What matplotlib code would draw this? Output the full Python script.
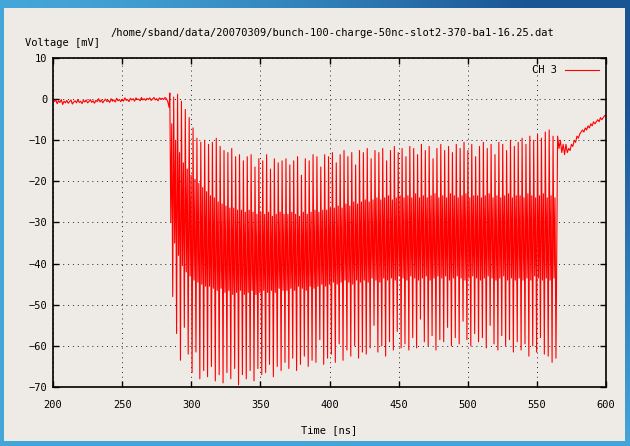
"""
Осциллограмма канала CH 3: пачка из 100 сгустков (шаг 2.8 нс).
"""

import matplotlib

matplotlib.use("Agg")

import matplotlib.pyplot as plt
import numpy as np
from matplotlib.patches import Rectangle

TITLE = "/home/sband/data/20070309/bunch-100-charge-50nc-slot2-370-ba1-16.25.dat"

# Базовая линия до прихода пачки, шаг 1 нс (200 ... 284 нс)
baseline_start = 200.0
baseline_mv = [
    0.0, -0.6, -0.2, -1.1, -0.4, -0.8, -0.1, -1.3, -0.5, -0.9,
    -0.3, -1.0, -0.6, -0.2, -1.2, -0.7, -0.4, -0.9, -0.1, -0.8,
    -0.5, -1.1, -0.3, -0.7, -0.2, -0.9, -0.6, -0.1, -0.8, -0.4,
    -1.0, -0.3, -0.6, 0.1, -0.7, -0.2, -0.9, -0.4, 0.0, -0.6,
    -0.3, -0.8, 0.1, -0.5, -0.2, -0.7, 0.2, -0.4, -0.1, -0.6,
    0.0, -0.5, 0.3, -0.3, -0.1, -0.6, 0.2, -0.2, 0.1, -0.5,
    0.3, -0.1, 0.0, -0.4, 0.4, -0.2, 0.1, -0.3, 0.2, -0.1,
    0.3, -0.3, 0.0, 0.4, -0.2, 0.1, -0.4, 0.3, 0.0, 0.2,
    -0.1, 0.4, 0.1, -0.6, -2.0,
]

# Пачка: 100 сгустков, первый в 284.5 нс, шаг 2.8 нс
bunch_first = 284.5
bunch_step = 2.8
# Верхние пики каждого периода
peak_top = [
    1.5, 0.5, 1.2, -0.5, -2.5, -4.5, -7.0, -9.5, -10.5, -10.0,
    -11.0, -10.5, -9.5, -11.5, -12.5, -13.0, -12.0, -14.0, -13.5, -15.0,
    -14.0, -13.5, -16.5, -14.5, -15.0, -13.5, -17.0, -14.5, -15.5, -15.0,
    -14.5, -16.0, -15.0, -14.0, -18.5, -14.5, -15.0, -13.5, -14.0, -16.5,
    -13.5, -14.0, -13.0, -15.5, -13.5, -12.5, -14.0, -13.0, -16.0, -12.5,
    -13.0, -12.0, -14.5, -12.5, -13.0, -12.0, -15.0, -12.5, -11.5, -13.0,
    -12.0, -14.0, -11.5, -12.0, -13.5, -11.0, -12.5, -11.5, -14.5, -12.0,
    -11.0, -12.5, -11.5, -13.0, -11.0, -12.0, -10.5, -12.5, -11.0, -14.0,
    -11.5, -10.5, -12.0, -11.0, -13.5, -10.5, -11.0, -12.5, -10.0, -11.5,
    -10.5, -9.5, -11.0, -9.0, -10.0, -8.5, -9.5, -8.0, -7.5, -9.0,
]
# Нижняя граница плотной полосы
band_low = [
    -30.0, -35.0, -38.0, -40.5, -42.0, -43.0, -44.0, -44.5, -45.0, -45.5,
    -45.5, -46.0, -46.5, -46.0, -47.0, -46.5, -47.5, -47.0, -46.5, -47.5,
    -47.0, -46.5, -47.5, -47.0, -46.5, -47.0, -46.5, -47.0, -46.0, -46.5,
    -46.5, -46.0, -46.5, -45.5, -46.0, -46.5, -45.5, -46.0, -45.5, -45.0,
    -45.5, -45.0, -44.5, -45.0, -44.5, -44.0, -44.5, -45.0, -44.0, -44.5,
    -44.0, -44.5, -43.5, -44.0, -44.5, -43.5, -44.0, -43.5, -44.0, -43.0,
    -43.5, -44.0, -43.0, -43.5, -44.0, -43.5, -43.0, -44.0, -43.5, -43.0,
    -43.5, -43.0, -44.0, -43.5, -43.0, -43.5, -44.0, -43.5, -43.0, -43.5,
    -44.0, -43.5, -43.0, -43.5, -44.0, -43.5, -43.0, -44.0, -43.5, -44.0,
    -43.5, -44.0, -43.5, -44.0, -43.0, -43.5, -44.0, -43.5, -44.0, -43.5,
]
# Верхняя граница плотной полосы
band_high = [
    -6.0, -10.0, -13.0, -15.5, -17.0, -18.5, -19.5, -20.5, -21.5, -22.5,
    -23.5, -24.0, -25.0, -25.5, -26.0, -26.5, -26.5, -27.0, -27.0, -27.5,
    -27.0, -27.5, -28.0, -27.5, -28.0, -27.5, -28.5, -28.0, -27.5, -28.0,
    -28.0, -27.5, -28.0, -28.5, -27.5, -28.0, -27.5, -27.0, -27.5, -27.0,
    -27.0, -26.5, -26.5, -26.0, -26.5, -25.5, -26.0, -25.0, -25.5, -25.0,
    -24.5, -25.0, -24.5, -24.0, -24.5, -24.0, -23.5, -24.5, -24.0, -23.5,
    -24.0, -23.5, -24.0, -23.0, -24.0, -23.5, -24.0, -23.5, -23.0, -24.0,
    -23.5, -24.0, -23.0, -23.5, -24.0, -23.5, -23.0, -24.0, -23.5, -23.5,
    -24.0, -23.5, -23.0, -24.0, -23.5, -24.0, -23.5, -23.0, -24.0, -23.5,
    -23.5, -24.0, -23.0, -23.5, -24.0, -23.5, -23.0, -24.0, -23.5, -24.0,
]
# Нижние пики каждого периода
peak_bottom = [
    -48.0, -57.0, -63.5, -55.5, -62.0, -66.5, -61.5, -68.0, -66.0, -67.5,
    -65.0, -68.5, -67.0, -69.0, -66.5, -68.0, -65.5, -69.5, -67.0, -68.0,
    -66.0, -68.5, -65.5, -67.0, -66.5, -64.5, -67.5, -65.0, -66.0, -64.0,
    -65.5, -63.0, -66.0, -64.5, -62.5, -65.0, -63.5, -64.0, -58.5, -64.5,
    -63.0, -62.0, -64.0, -59.5, -63.5, -61.0, -62.5, -60.0, -63.0, -61.5,
    -62.0, -60.5, -55.0, -61.5, -60.0, -62.5, -59.0, -61.0, -56.5, -60.5,
    -59.5, -61.0, -58.0, -60.5, -53.5, -59.0, -60.0, -57.5, -61.0, -58.5,
    -59.0, -55.5, -60.0, -58.0, -59.5, -54.0, -58.5, -60.0, -57.0, -59.0,
    -58.0, -60.5, -55.0, -59.5, -61.0, -57.5, -60.0, -58.5, -61.5, -59.0,
    -61.0, -59.5, -62.5, -60.0, -61.5, -58.0, -62.0, -62.5, -64.0, -63.0,
]

# Хвост после пачки, шаг 1 нс (565 ... 600 нс)
tail_start = 565.0
tail_mv = [
    -9.0, -12.0, -10.0, -13.0, -11.0, -13.5, -11.0, -13.0, -12.0, -12.5,
    -11.0, -11.5, -10.0, -10.5, -9.0, -9.5, -8.5, -8.0, -7.5, -8.0,
    -7.0, -7.5, -6.5, -7.0, -6.0, -6.5, -5.5, -6.0, -5.5, -5.0,
    -5.5, -4.5, -5.0, -4.5, -4.0, -4.0,
]


def build_trace():
    """Склеивает базовую линию, пачку (4 точки на период) и хвост."""
    t_base = baseline_start + np.arange(len(baseline_mv))
    t_bunch = bunch_first + bunch_step * np.arange(len(peak_top))
    phase = np.array([0.0, 0.25, 0.5, 0.75]) * bunch_step
    t_b = (t_bunch[:, None] + phase[None, :]).ravel()
    v_b = np.column_stack([peak_top, band_low, band_high, peak_bottom]).ravel()
    t_tail = tail_start + np.arange(len(tail_mv))
    t = np.concatenate([t_base, t_b, t_tail])
    v = np.concatenate([baseline_mv, v_b, tail_mv])
    return t, v


W, H = 630, 446
fig = plt.figure(figsize=(W / 100, H / 100), dpi=100)

# Фон рабочего стола: голубой градиент, темнее в правом верхнем углу
bg = fig.add_axes([0, 0, 1, 1], zorder=-10)
gx, gy = np.meshgrid(np.linspace(0, 1, 64), np.linspace(0, 1, 48))
w = np.clip(gx ** 1.5 * (1 - gy) * 1.3, 0, 1)[..., None]
light = np.array([0.27, 0.65, 0.85])
dark = np.array([0.10, 0.33, 0.58])
bg.imshow(light * (1 - w) + dark * w, aspect="auto", extent=[0, 1, 0, 1],
          origin="upper", interpolation="bilinear")
bg.axis("off")

# Окно gnuplot
fig.patches.append(Rectangle((4 / W, 1 - 441 / H), 621 / W, 433 / H,
                             transform=fig.transFigure, facecolor="#eeebe7",
                             edgecolor="none", zorder=-5))

FONT = "DejaVu Sans Mono"
FS = 7.5

ax = fig.add_axes([53 / W, 1 - 387 / H, 553 / W, 329 / H])
ax.set_facecolor("#eeebe7")

t, v = build_trace()
ax.plot(t, v, color="#ff0000", linewidth=0.8, label="CH 3")

ax.set_xlim(200, 600)
ax.set_ylim(-70, 10)
ax.set_xticks(np.arange(200, 601, 50))
ax.set_yticks(np.arange(-70, 11, 10))
ax.grid(True, color="#222222", linestyle=(0, (1, 4)), linewidth=0.7)
ax.tick_params(direction="in", top=True, right=True, length=4, width=1,
               labelsize=FS)
ax.tick_params(axis="x", pad=9)
ax.tick_params(axis="y", pad=4)
for lab in ax.get_xticklabels() + ax.get_yticklabels():
    lab.set_fontfamily(FONT)
for sp in ax.spines.values():
    sp.set_linewidth(1.2)

leg = ax.legend(loc="upper right", frameon=False, markerfirst=False,
                handlelength=3.2, borderaxespad=0.3,
                prop={"family": FONT, "size": FS})

fig.text(332 / W, 1 - 33 / H, TITLE, ha="center", va="center",
         family=FONT, fontsize=FS)
fig.text(25 / W, 1 - 43 / H, "Voltage [mV]", ha="left", va="center",
         family=FONT, fontsize=FS)
fig.text(329 / W, 1 - 430 / H, "Time [ns]", ha="center", va="center",
         family=FONT, fontsize=FS)

fig.savefig("out.png", dpi=100)
